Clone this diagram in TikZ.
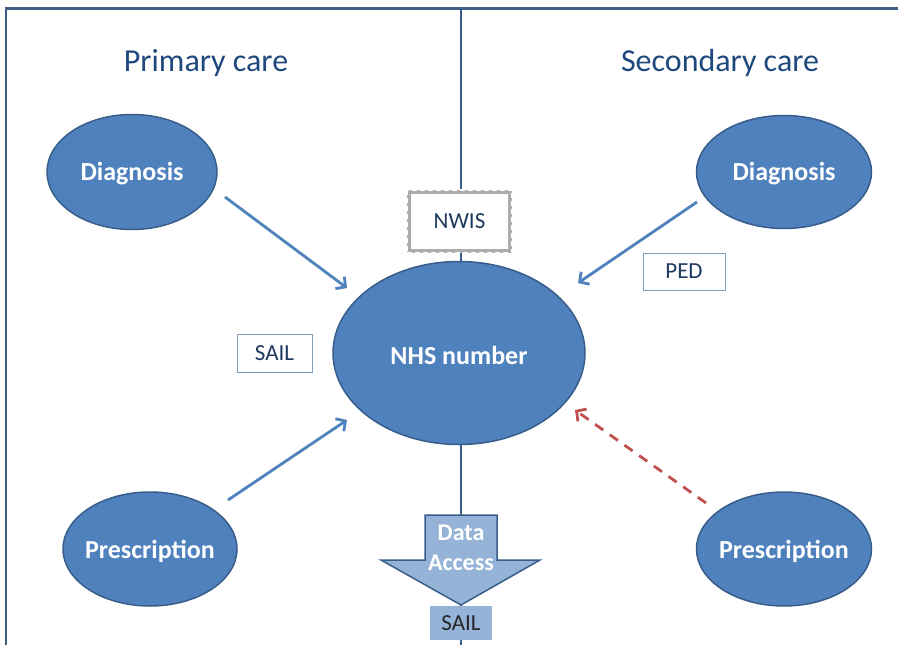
\documentclass[tikz,border=0pt]{standalone}
\usepackage{fontspec}
\setmainfont{Carlito}
\usetikzlibrary{arrows.meta,shapes.geometric}
\definecolor{ellfill}{HTML}{4F81BD}
\definecolor{ellline}{HTML}{385D8A}
\definecolor{titlec}{HTML}{1F497D}
\definecolor{framec}{HTML}{3F5E85}
\definecolor{boxline}{HTML}{7F9DB9}
\definecolor{lightfill}{HTML}{95B3D7}
\definecolor{redc}{HTML}{C0504D}
\definecolor{textc}{HTML}{1F3A5F}
\tikzset{
  ell/.style={ellipse, fill=ellfill, draw=ellline, line width=1.5pt, inner sep=0pt,
    label={[text=white, font=\fontsize{26}{28}\selectfont\bfseries, yshift=-2pt]center:#1}},
  title/.style={text=titlec, font=\fontsize{32}{34}\selectfont},
  smallbox/.style={draw=boxline, line width=1pt, fill=white, text=textc, font=\fontsize{23}{25}\selectfont, inner sep=0pt},
  link/.style={draw=ellfill, line width=2.8pt, -{Straight Barb[length=7pt,width=15pt]}},
  redlink/.style={draw=redc, line width=2.8pt, dash pattern=on 10pt off 8pt, -{Straight Barb[length=7pt,width=15pt]}},
}
\begin{document}
\begin{tikzpicture}[x=1pt,y=-1pt]
\useasboundingbox (0,0) rectangle (902,645);
% frame
\draw[framec, line width=1.5pt] (6,8) -- (6,645);
\draw[framec, line width=3pt] (5,8) -- (898,8);
% centre line
\draw[ellline, line width=1.2pt] (461,8) -- (461,645);
% titles
\node[title] (pc) at (206,63) {Primary care};
\node[title] (sc) at (720,63) {Secondary care};
% ellipses
\node[ell=Diagnosis, minimum width=170pt, minimum height=115pt] (dl) at (132,172) {};
\node[ell=Diagnosis, minimum width=175pt, minimum height=113pt] (dr) at (784,172) {};
\node[ell=NHS number, minimum width=252pt, minimum height=183pt] (nhs) at (459,353) {};
\node[ell=Prescription, minimum width=174pt, minimum height=114pt] (pl) at (150,549) {};
\node[ell=Prescription, minimum width=175pt, minimum height=114pt] (pr) at (784,549) {};
% NWIS chain box
\node[draw=gray!65, line width=4.5pt, fill=white, minimum width=101pt, minimum height=59pt, inner sep=0pt] (nwis) at (459.5,221.5) {};
\draw[white, line width=1.8pt, dash pattern=on 5pt off 3pt] (nwis.north west) rectangle (nwis.south east);
\node[text=textc, font=\fontsize{23}{25}\selectfont] (nwist) at (nwis) {NWIS};
% small boxes
\node[smallbox, minimum width=82pt, minimum height=37pt] (ped) at (684,271.5) {PED};
\node[smallbox, minimum width=75pt, minimum height=38pt] (sail1) at (274.5,353) {SAIL};
% data access arrow
\path[fill=lightfill, draw=ellline, line width=1.5pt] (425,515) -- (497,515) -- (497,560) -- (540,560) -- (461,605) -- (381,560) -- (425,560) -- cycle;
\node[text=white, font=\fontsize{24}{30}\selectfont\bfseries, align=center] (da) at (461,548) {Data\\Access};
\node[fill=lightfill, text=black!85, font=\fontsize{23}{25}\selectfont, minimum width=62pt, minimum height=34pt, inner sep=0pt] (sail2) at (461,623) {SAIL};
% connectors
\coordinate (a1) at (225,197); \coordinate (b1) at (347,288);
\coordinate (a2) at (228,500); \coordinate (b2) at (347,420);
\coordinate (a3) at (697,202); \coordinate (b3) at (578,283);
\coordinate (a4) at (706,503); \coordinate (b4) at (575,410);
\draw[link] (a1) -- (b1);
\draw[link] (a2) -- (b2);
\draw[link] (a3) -- (b3);
\draw[redlink] (a4) -- (b4);
\end{tikzpicture}
\end{document}
